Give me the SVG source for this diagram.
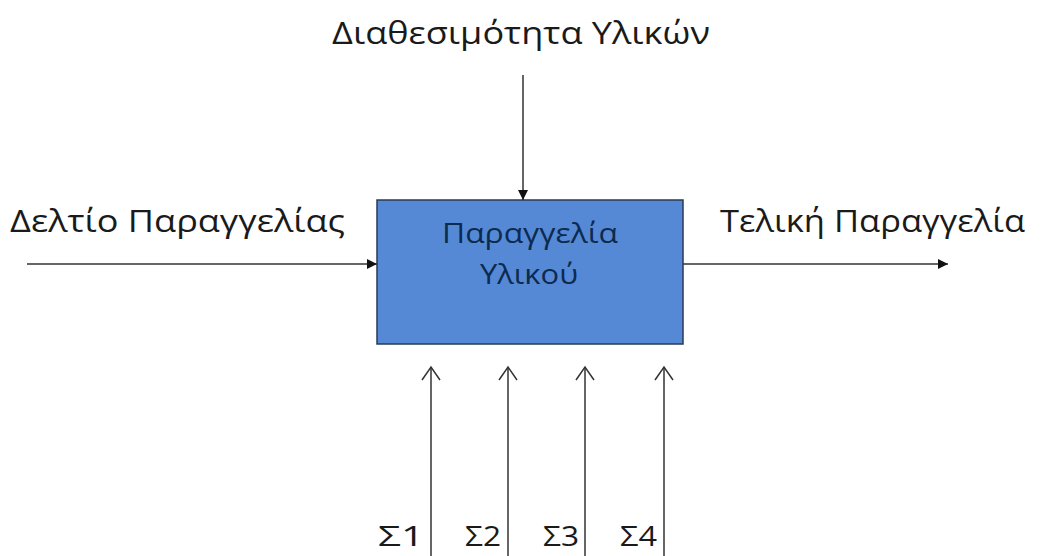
<svg xmlns="http://www.w3.org/2000/svg" width="1043" height="556" viewBox="0 0 1043 556">
<style>
.t{font-family:"Open Sans","Noto Sans","DejaVu Sans",sans-serif;fill:#1a1a1a}
.c{stroke:#333;stroke-width:1.5;fill:none}
.open{stroke:#333;stroke-width:1.5;fill:none}
</style>
<defs>
<marker id="fa" viewBox="0 0 10 10" refX="10" refY="5" markerWidth="10" markerHeight="10" markerUnits="userSpaceOnUse" orient="auto">
<path d="M0,0 L10,5 L0,10 Z" fill="#111"/>
</marker>
</defs>
<rect width="1043" height="556" fill="#fff"/>
<g id="box">
<rect x="377" y="200" width="306" height="144" fill="#5589D6" stroke="#2a3a55" stroke-width="1.5"/>
<text class="t" x="530" y="243" font-size="28" text-anchor="middle" style="fill:#0d2a4f" textLength="176" lengthAdjust="spacingAndGlyphs">Παραγγελία</text>
<text class="t" x="529" y="284" font-size="28" text-anchor="middle" style="fill:#0d2a4f" textLength="98" lengthAdjust="spacingAndGlyphs">Υλικού</text>
</g>
<g id="label-top"><text class="t" x="332" y="44" font-size="31" textLength="378" lengthAdjust="spacingAndGlyphs">Διαθεσιμότητα Υλικών</text></g>
<g id="label-left"><text class="t" x="10" y="232" font-size="31" textLength="335" lengthAdjust="spacingAndGlyphs">Δελτίο Παραγγελίας</text></g>
<g id="label-right"><text class="t" x="720" y="232" font-size="31" textLength="305" lengthAdjust="spacingAndGlyphs">Τελική Παραγγελία</text></g>
<g id="s1"><text class="t" x="424" y="546" font-size="28" text-anchor="end" textLength="46" lengthAdjust="spacingAndGlyphs">Σ1</text></g>
<g id="s2"><text class="t" x="501" y="546" font-size="28" text-anchor="end" textLength="36" lengthAdjust="spacingAndGlyphs">Σ2</text></g>
<g id="s3"><text class="t" x="579" y="546" font-size="28" text-anchor="end" textLength="36" lengthAdjust="spacingAndGlyphs">Σ3</text></g>
<g id="s4"><text class="t" x="657" y="546" font-size="28" text-anchor="end" textLength="37" lengthAdjust="spacingAndGlyphs">Σ4</text></g>
<g id="connectors">
<line class="c" x1="523" y1="75" x2="523" y2="200" marker-end="url(#fa)"/>
<line class="c" x1="27" y1="264" x2="377" y2="264" marker-end="url(#fa)"/>
<line class="c" x1="683" y1="264" x2="948" y2="264" marker-end="url(#fa)"/>
<line class="c" x1="431" y1="556" x2="431" y2="367"/>
<path class="open" d="M422,380 L431,367 L440,380"/>
<line class="c" x1="508" y1="556" x2="508" y2="367"/>
<path class="open" d="M499,380 L508,367 L517,380"/>
<line class="c" x1="585" y1="556" x2="585" y2="367"/>
<path class="open" d="M576,380 L585,367 L594,380"/>
<line class="c" x1="664" y1="556" x2="664" y2="367"/>
<path class="open" d="M655,380 L664,367 L673,380"/>
</g>
</svg>
